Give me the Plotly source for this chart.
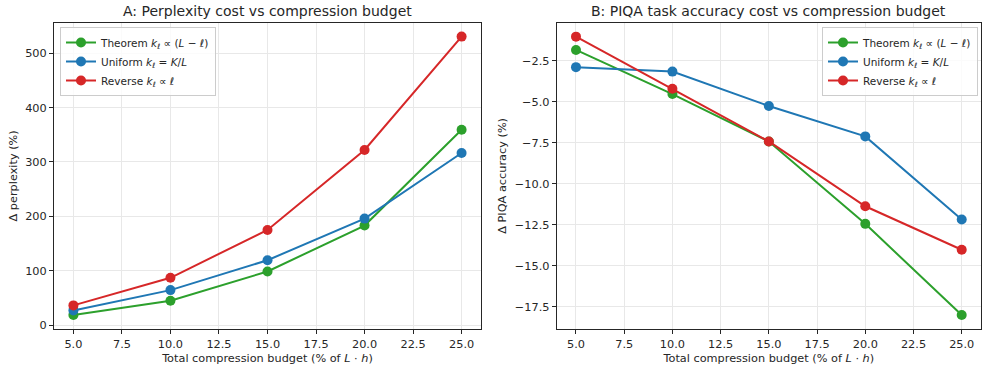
import plotly.graph_objects as go

budget = [5.0, 10.0, 15.0, 20.0, 25.0]

ppl_theorem = [18.4, 44.8, 98.6, 183.0, 359.2]
ppl_uniform = [27.0, 64.3, 119.3, 195.8, 316.4]
ppl_reverse = [36.2, 87.0, 175.0, 322.0, 530.5]

piqa_theorem = [-1.85, -4.54, -7.43, -12.45, -18.01]
piqa_uniform = [-2.90, -3.17, -5.27, -7.12, -12.19]
piqa_reverse = [-1.04, -4.22, -7.43, -11.38, -14.03]

names = [
    "Theorem <i>k</i><sub>ℓ</sub> ∝ (<i>L</i> − ℓ)",
    "Uniform <i>k</i><sub>ℓ</sub> = <i>K</i>/<i>L</i>",
    "Reverse <i>k</i><sub>ℓ</sub> ∝ ℓ",
]
colors = ["#2ca02c", "#1f77b4", "#d62728"]

x_ticks = [5.0, 7.5, 10.0, 12.5, 15.0, 17.5, 20.0, 22.5, 25.0]
left_yticks = [0, 100, 200, 300, 400, 500]
right_yticks = [-2.5, -5.0, -7.5, -10.0, -12.5, -15.0, -17.5]

titles = ["A: Perplexity cost vs compression budget",
          "B: PIQA task accuracy cost vs compression budget"]
xlabel = "Total compression budget (% of <i>L</i> · <i>h</i>)"
ylabels = ["Δ perplexity (%)", "Δ PIQA accuracy (%)"]

FONT = "DejaVu Sans"
TICK = 11.3
fig = go.Figure()

for i, ys in enumerate([ppl_theorem, ppl_uniform, ppl_reverse]):
    fig.add_trace(go.Scatter(x=budget, y=ys, mode="lines+markers", name=names[i],
                             line=dict(color=colors[i], width=2),
                             marker=dict(color=colors[i], size=10),
                             xaxis="x", yaxis="y", legend="legend"))
for i, ys in enumerate([piqa_theorem, piqa_uniform, piqa_reverse]):
    fig.add_trace(go.Scatter(x=budget, y=ys, mode="lines+markers", name=names[i],
                             line=dict(color=colors[i], width=2),
                             marker=dict(color=colors[i], size=10),
                             xaxis="x2", yaxis="y2", legend="legend2"))

axis_common = dict(showline=True, mirror=True, linecolor="#262626", linewidth=1,
                   ticks="outside", ticklen=4, tickcolor="#262626", tickwidth=1,
                   showgrid=True, gridcolor="#e8e8e8", gridwidth=1, zeroline=False,
                   tickfont=dict(family=FONT, size=TICK, color="#262626"))

ydom = [1 - 329 / 365, 1 - 22.7 / 365]
fig.update_layout(
    width=982, height=365,
    margin=dict(l=0, r=0, t=0, b=0, autoexpand=False),
    paper_bgcolor="white", plot_bgcolor="white",
    font=dict(family=FONT, size=TICK, color="#262626"),
    xaxis=dict(domain=[54 / 982, 481 / 982], range=[4.0, 26.0], tickvals=x_ticks,
               ticktext=[f"{v:.1f}" for v in x_ticks],
               title=dict(text=xlabel, standoff=4, font=dict(size=TICK)), anchor="y", **axis_common),
    yaxis=dict(domain=ydom, range=[-7.2, 556.1], tickvals=left_yticks,
               title=dict(text=ylabels[0], standoff=5, font=dict(size=TICK)), anchor="x", **axis_common),
    xaxis2=dict(domain=[556.7 / 982, 981 / 982], range=[4.0, 26.0], tickvals=x_ticks,
                ticktext=[f"{v:.1f}" for v in x_ticks],
                title=dict(text=xlabel, standoff=4, font=dict(size=TICK)), anchor="y2", **axis_common),
    yaxis2=dict(domain=ydom, range=[-18.86, -0.19], tickvals=right_yticks,
                ticktext=[f"−{abs(v):.1f}" for v in right_yticks],
                title=dict(text=ylabels[1], standoff=5, font=dict(size=TICK)), anchor="x2", **axis_common),
    legend=dict(x=60 / 982, y=1 - 27 / 365, xanchor="left", yanchor="top",
                bgcolor="rgba(255,255,255,0.8)", bordercolor="#cccccc", borderwidth=1,
                font=dict(family=FONT, size=10.5), tracegroupgap=0, itemwidth=30),
    legend2=dict(x=978 / 982, y=1 - 27 / 365, xanchor="right", yanchor="top",
                 bgcolor="rgba(255,255,255,0.8)", bordercolor="#cccccc", borderwidth=1,
                 font=dict(family=FONT, size=10.5), tracegroupgap=0, itemwidth=30),
    annotations=[
        dict(text=titles[0], x=(54 + 481) / 2 / 982, y=1 - 11 / 365, xref="paper", yref="paper",
             xanchor="center", yanchor="middle", showarrow=False, font=dict(family=FONT, size=14)),
        dict(text=titles[1], x=(556.7 + 981) / 2 / 982, y=1 - 11 / 365, xref="paper", yref="paper",
             xanchor="center", yanchor="middle", showarrow=False, font=dict(family=FONT, size=14)),
    ],
)

fig.write_html("out.html", config={"displayModeBar": False},
               post_script="document.body.style.margin='0';document.body.style.overflow='hidden';")
